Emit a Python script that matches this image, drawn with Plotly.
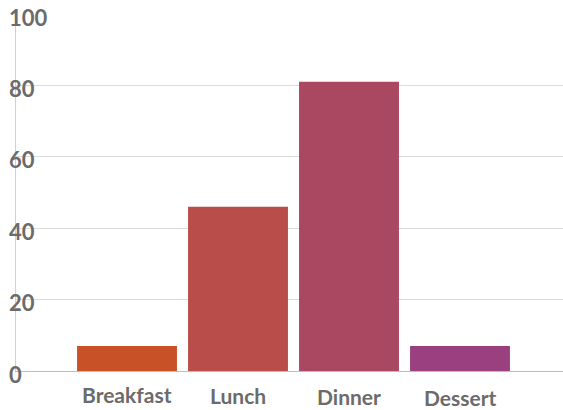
import plotly.graph_objects as go

categories = ["Breakfast", "Lunch", "Dinner", "Dessert"]
values = [7, 46, 81, 7]
bar_colors = ["#C95128", "#B94D4A", "#AA4761", "#9B407E"]
y_ticks = [0, 20, 40, 60, 80, 100]
label_drops = [11, 12, 13, 14]

FONT = "Lato"
TXT = "#6b6b6b"

fig = go.Figure()
fig.add_trace(go.Bar(x=categories, y=values, marker=dict(color=bar_colors, line=dict(width=0)),
                     hoverinfo="skip"))

annotations = []
for t in y_ticks:
    annotations.append(dict(x=0, xref="paper", y=t, yref="y", text=str(t), showarrow=False,
                            xanchor="left", yanchor="middle", xshift=-9, yshift=-3,
                            font=dict(family=FONT, size=22, color=TXT, weight="bold")))
for c, d in zip(categories, label_drops):
    annotations.append(dict(x=c, xref="x", y=0, yref="paper", text=c, showarrow=False,
                            xanchor="center", yanchor="top", yshift=-d, borderpad=0, borderwidth=0,
                            font=dict(family=FONT, size=21, color=TXT, weight="bold")))

fig.update_layout(
    width=563, height=410,
    margin=dict(l=16, r=0, t=14, b=39),
    paper_bgcolor="white", plot_bgcolor="white",
    bargap=0.1,
    showlegend=False,
    xaxis=dict(range=[-1, 547 / 111 - 1], showticklabels=False, showgrid=False, zeroline=False,
               showline=True, linecolor="#bdbdbd", linewidth=1, ticks=""),
    yaxis=dict(range=[0, 100], tickvals=y_ticks, showticklabels=False, showgrid=True,
               gridcolor="#dcdcdc", gridwidth=1, zeroline=False, showline=True,
               linecolor="#d0d0d0", linewidth=1, ticks=""),
    annotations=annotations,
)

fig.write_html("out.html", config={"displayModeBar": False},
               post_script="document.body.style.margin='0';")
